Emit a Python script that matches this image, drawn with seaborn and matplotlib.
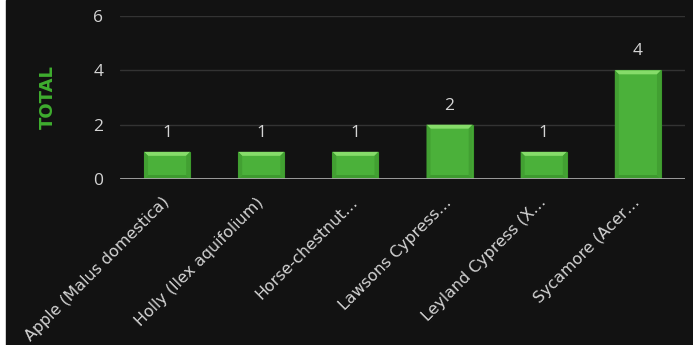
import seaborn as sns
import matplotlib.pyplot as plt
from matplotlib.patches import Polygon, Rectangle
import pandas as pd

species = ["Apple (Malus domestica)", "Holly (Ilex aquifolium)", "Horse-chestnut…",
           "Lawsons Cypress…", "Leyland Cypress (X…", "Sycamore (Acer…"]
totals = [1, 1, 1, 2, 1, 4]
y_ticks = [0, 2, 4, 6]

sns.set_theme(style="dark")
plt.rcParams['font.family'] = ['Open Sans', 'DejaVu Sans']

bg = '#121212'
txt = '#d4d4d4'
green = '#4bb13a'

fig = plt.figure(figsize=(6.93, 3.45), dpi=100, facecolor='white')
fig.patches.append(Rectangle((6 / 693, 0), 1, 1, transform=fig.transFigure,
                             color=bg, zorder=-10))
ax = fig.add_axes([120 / 693, 1 - 179 / 345, 565 / 693, 163 / 345])
ax.set_facecolor(bg)

df = pd.DataFrame({'species': species, 'total': totals})
sns.barplot(data=df, x='species', y='total', color=green, saturation=1,
            width=0.49, ax=ax, edgecolor='#3c9a2c', linewidth=0.8, zorder=3)

ax.set_ylim(0, 6)
ax.set_xlim(-0.5, len(species) - 0.5)
ax.set_yticks(y_ticks)

# bevel look on each bar: light top, darker sides/bottom
fig.canvas.draw()
px_x = ax.transData.transform((1, 0))[0] - ax.transData.transform((0, 0))[0]
px_y = ax.transData.transform((0, 1))[1] - ax.transData.transform((0, 0))[1]
bx, by = 4 / px_x, 4 / px_y
for p in list(ax.patches):
    x0, y0, w, h = p.get_x(), p.get_y(), p.get_width(), p.get_height()
    x1, y1 = x0 + w, y0 + h
    ax.add_patch(Polygon([(x0, y1), (x1, y1), (x1 - bx, y1 - by), (x0 + bx, y1 - by)],
                         closed=True, color='#86dc6a', lw=0, zorder=4))
    ax.add_patch(Polygon([(x0, y0), (x0 + bx, y0 + by), (x0 + bx, y1 - by), (x0, y1)],
                         closed=True, color='#42a032', lw=0, zorder=4))
    ax.add_patch(Polygon([(x1, y0), (x1 - bx, y0 + by), (x1 - bx, y1 - by), (x1, y1)],
                         closed=True, color='#42a032', lw=0, zorder=4))
    ax.add_patch(Polygon([(x0, y0), (x1, y0), (x1 - bx, y0 + by), (x0 + bx, y0 + by)],
                         closed=True, color='#3e9a2f', lw=0, zorder=4))

ax.bar_label(ax.containers[0], labels=[str(v) for v in totals], padding=8,
             color=txt, fontsize=12.5)

ax.grid(axis='y', color='#333333', lw=1, zorder=0)
ax.grid(axis='x', visible=False)
for s in ax.spines.values():
    s.set_visible(False)
ax.axhline(0, color='#a8a8a8', lw=2, zorder=5)

ax.tick_params(axis='y', length=0, pad=12, labelsize=12.5, labelcolor=txt)
ax.tick_params(axis='x', length=0, pad=15, labelcolor=txt)
plt.setp(ax.get_xticklabels(), rotation=45, ha='right', va='center',
         rotation_mode='anchor', family='DejaVu Sans', fontsize=11.4)

ax.set_xlabel('')
ax.set_ylabel('TOTAL', color='#3fae2f', fontsize=13, fontweight='bold',
              family='DejaVu Sans', labelpad=26)

fig.savefig('out.png', dpi=100, facecolor=fig.get_facecolor())
